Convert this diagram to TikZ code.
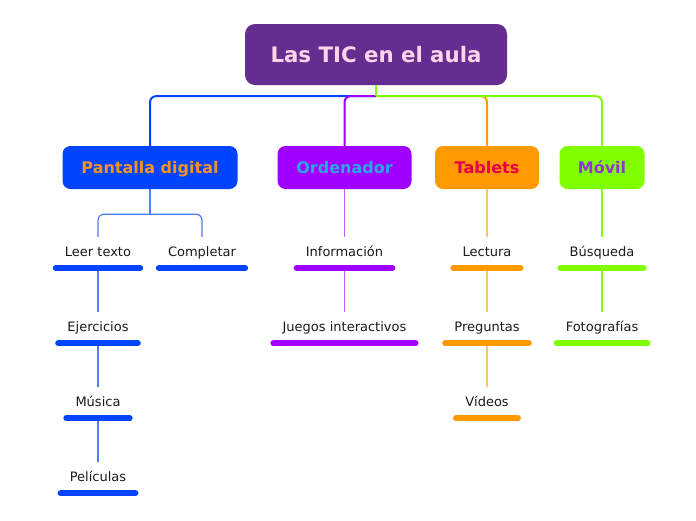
\documentclass[tikz,border=0pt]{standalone}
\usepackage{fontspec}
\setmainfont{DejaVu Sans}
\definecolor{cTitle}{HTML}{652D90}
\definecolor{cTitleTxt}{HTML}{FFD3E8}
\definecolor{cBlue}{HTML}{0044FF}
\definecolor{cBlueL}{HTML}{4D7CFF}
\definecolor{cPurple}{HTML}{A000FF}
\definecolor{cPurpleL}{HTML}{C45BFF}
\definecolor{cOrange}{HTML}{FF9900}
\definecolor{cOrangeL}{HTML}{FFC266}
\definecolor{cGreen}{HTML}{80FF00}
\definecolor{cOrangeTxt}{HTML}{F7941D}
\definecolor{cCyanTxt}{HTML}{29A8E6}
\definecolor{cRedTxt}{HTML}{E6004C}
\definecolor{cVioletTxt}{HTML}{8E35D5}
\definecolor{leaftext}{HTML}{1A1A1A}
\begin{document}
\begin{tikzpicture}[x=1pt,y=-1pt,
  main/.style={rounded corners=8pt, font=\bfseries\fontsize{16}{19}\selectfont, text height=12pt, text depth=0pt, minimum height=43pt, inner sep=0pt},
  leaf/.style={font=\fontsize{13}{15}\selectfont, text=leaftext, text height=9.5pt, text depth=2.5pt, minimum height=31pt, inner xsep=12pt, inner ysep=0pt},
  bar/.style={line width=6pt, line cap=round},
  conn/.style={line width=2pt},
  sub/.style={line width=1.2pt}]
\useasboundingbox (0,0) rectangle (696,520);
% main nodes
\node[main, fill=cTitle, text=cTitleTxt, minimum width=262pt, minimum height=61pt, rounded corners=10pt, text height=15.5pt, font=\bfseries\fontsize{21.3}{25}\selectfont] (title) at (376,54.5) {Las TIC en el aula};
\node[main, fill=cBlue, text=cOrangeTxt, minimum width=175pt] (pd) at (150,167.5) {Pantalla digital};
\node[main, fill=cPurple, text=cCyanTxt, minimum width=134pt] (ord) at (344.5,167.5) {Ordenador};
\node[main, fill=cOrange, text=cRedTxt, minimum width=104pt] (tab) at (487,167.5) {Tablets};
\node[main, fill=cGreen, text=cVioletTxt, minimum width=85pt] (mov) at (602,167.5) {Móvil};
% main connectors
\coordinate (hub) at ([yshift=-11pt]title.south);
\draw[conn, cBlue, rounded corners=6pt] (hub) -| (pd.north);
\draw[conn, cPurple, rounded corners=6pt] (hub) -| (ord.north);
\draw[conn, cOrange, rounded corners=6pt] (hub) -| (tab.north);
\draw[conn, cGreen, rounded corners=6pt] (hub) -| (mov.north);
\draw[conn, cGreen] (title.south) -- (hub);
% leaves
\node[leaf] (a1) at (98,252.5) {Leer texto};
\node[leaf] (a2) at (202,252.5) {Completar};
\node[leaf] (a3) at (98,327.5) {Ejercicios};
\node[leaf] (a4) at (98,402.5) {Música};
\node[leaf] (a5) at (98,477.5) {Películas};
\node[leaf] (b1) at (344.5,252.5) {Información};
\node[leaf] (b2) at (344.5,327.5) {Juegos interactivos};
\node[leaf] (c1) at (487,252.5) {Lectura};
\node[leaf] (c2) at (487,327.5) {Preguntas};
\node[leaf] (c3) at (487,402.5) {Vídeos};
\node[leaf] (d1) at (602,252.5) {Búsqueda};
\node[leaf] (d2) at (602,327.5) {Fotografías};
% sub connectors
\coordinate (pdhub) at ([yshift=-25pt]pd.south);
\draw[sub, cBlueL] (pd.south) -- (pdhub);
\draw[sub, cBlueL, rounded corners=6pt] (pdhub) -| (a1.north);
\draw[sub, cBlueL, rounded corners=6pt] (pdhub) -| (a2.north);
\draw[sub, cBlueL] (a1.south) -- (a3.north);
\draw[sub, cBlueL] (a3.south) -- (a4.north);
\draw[sub, cBlueL] (a4.south) -- (a5.north);
\draw[sub, cPurpleL] (ord.south) -- (b1.north);
\draw[sub, cPurpleL] (b1.south) -- (b2.north);
\draw[sub, cOrangeL] (tab.south) -- (c1.north);
\draw[sub, cOrangeL] (c1.south) -- (c2.north);
\draw[sub, cOrangeL] (c2.south) -- (c3.north);
\draw[sub, cGreen] (mov.south) -- (d1.north);
\draw[sub, cGreen] (d1.south) -- (d2.north);
% bars
\foreach \n/\c in {a1/cBlue,a2/cBlue,a3/cBlue,a4/cBlue,a5/cBlue,b1/cPurple,b2/cPurple,c1/cOrange,c2/cOrange,c3/cOrange,d1/cGreen,d2/cGreen}
  \draw[bar, \c] ([xshift=3pt]\n.south west) -- ([xshift=-3pt]\n.south east);
\end{tikzpicture}
\end{document}
